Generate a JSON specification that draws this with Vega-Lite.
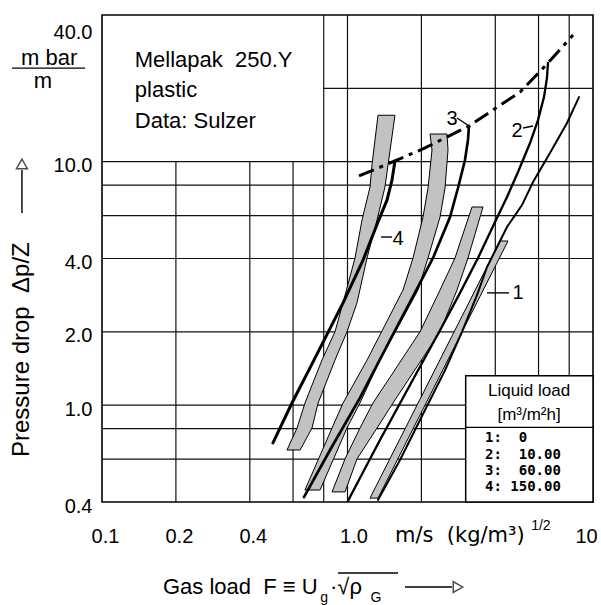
{
  "$schema": "https://vega.github.io/schema/vega-lite/v6.json",
  "width": 491,
  "height": 487,
  "autosize": {"type": "none"},
  "padding": {"left": 102, "top": 15, "right": 8, "bottom": 103},
  "background": "white",
  "config": {
    "view": {"stroke": "black", "strokeWidth": 1.6},
    "font": "Liberation Sans, DejaVu Sans",
    "text": {"font": "Liberation Sans, DejaVu Sans", "color": "black"}
  },
  "datasets": {
    "vgrid": [
      {"x": 0.2, "y": 0.4, "y2": 10}, {"x": 0.4, "y": 0.4, "y2": 10}, {"x": 0.6, "y": 0.4, "y2": 10},
      {"x": 0.8, "y": 0.4, "y2": 40}, {"x": 1, "y": 0.4, "y2": 40}, {"x": 2, "y": 0.4, "y2": 40},
      {"x": 4, "y": 1.32, "y2": 40}, {"x": 6, "y": 1.32, "y2": 40}, {"x": 8, "y": 1.32, "y2": 40}
    ],
    "hgrid": [
      {"y": 0.6, "x": 0.1, "x2": 3.03}, {"y": 0.8, "x": 0.1, "x2": 3.03}, {"y": 1, "x": 0.1, "x2": 3.03},
      {"y": 2, "x": 0.1, "x2": 10}, {"y": 4, "x": 0.1, "x2": 10}, {"y": 6, "x": 0.1, "x2": 10},
      {"y": 8, "x": 0.1, "x2": 10}, {"y": 10, "x": 0.1, "x2": 10}, {"y": 20, "x": 0.8, "x2": 10}
    ],
    "legendbox": [{"x": 3.03, "x2": 10, "y": 0.4, "y2": 1.32}],
    "legendsep": [{"x": 3.03, "x2": 10, "y": 0.81}],
    "bands": [
      {"band": "A", "y": 0.654, "x": 0.567, "x2": 0.641},
      {"band": "A", "y": 0.805, "x": 0.623, "x2": 0.717},
      {"band": "A", "y": 1.02, "x": 0.671, "x2": 0.759},
      {"band": "A", "y": 1.53, "x": 0.787, "x2": 0.889},
      {"band": "A", "y": 2.0, "x": 0.889, "x2": 0.995},
      {"band": "A", "y": 2.63, "x": 0.959, "x2": 1.093},
      {"band": "A", "y": 4.02, "x": 1.073, "x2": 1.201},
      {"band": "A", "y": 5.76, "x": 1.146, "x2": 1.319},
      {"band": "A", "y": 7.86, "x": 1.235, "x2": 1.421},
      {"band": "A", "y": 9.68, "x": 1.258, "x2": 1.462},
      {"band": "A", "y": 15.5, "x": 1.331, "x2": 1.561},
      {"band": "B", "y": 0.448, "x": 0.671, "x2": 0.773},
      {"band": "B", "y": 0.805, "x": 0.865, "x2": 0.995},
      {"band": "B", "y": 1.02, "x": 0.959, "x2": 1.124},
      {"band": "B", "y": 1.53, "x": 1.201, "x2": 1.356},
      {"band": "B", "y": 2.97, "x": 1.683, "x2": 1.937},
      {"band": "B", "y": 4.02, "x": 1.849, "x2": 2.128},
      {"band": "B", "y": 5.92, "x": 2.03, "x2": 2.382},
      {"band": "B", "y": 7.79, "x": 2.128, "x2": 2.496},
      {"band": "B", "y": 11.16, "x": 2.209, "x2": 2.567},
      {"band": "B", "y": 12.98, "x": 2.168, "x2": 2.543},
      {"band": "C", "y": 0.44, "x": 0.865, "x2": 0.977},
      {"band": "C", "y": 0.601, "x": 0.977, "x2": 1.093},
      {"band": "C", "y": 0.805, "x": 1.124, "x2": 1.319},
      {"band": "C", "y": 1.02, "x": 1.27, "x2": 1.532},
      {"band": "C", "y": 2.0, "x": 1.974, "x2": 2.382},
      {"band": "C", "y": 2.97, "x": 2.382, "x2": 2.793},
      {"band": "C", "y": 4.02, "x": 2.741, "x2": 3.096},
      {"band": "C", "y": 6.51, "x": 3.214, "x2": 3.564},
      {"band": "D", "y": 0.415, "x": 1.235, "x2": 1.331},
      {"band": "D", "y": 4.72, "x": 4.181, "x2": 4.507}
    ],
    "curves": [
      {"curve": "4", "i": 0, "x": 0.497, "y": 0.699}, {"curve": "4", "i": 1, "x": 0.594, "y": 1.02},
      {"curve": "4", "i": 2, "x": 0.73, "y": 1.53}, {"curve": "4", "i": 3, "x": 0.959, "y": 2.63},
      {"curve": "4", "i": 4, "x": 1.157, "y": 3.94}, {"curve": "4", "i": 5, "x": 1.331, "y": 5.65},
      {"curve": "4", "i": 6, "x": 1.449, "y": 6.96}, {"curve": "4", "i": 7, "x": 1.518, "y": 8.4},
      {"curve": "4", "i": 8, "x": 1.547, "y": 9.5}, {"curve": "4", "i": 9, "x": 1.561, "y": 10.06},
      {"curve": "3", "i": 0, "x": 0.665, "y": 0.419}, {"curve": "3", "i": 1, "x": 0.849, "y": 0.654},
      {"curve": "3", "i": 2, "x": 1.124, "y": 1.07}, {"curve": "3", "i": 3, "x": 1.49, "y": 1.85},
      {"curve": "3", "i": 4, "x": 1.937, "y": 3.06}, {"curve": "3", "i": 5, "x": 2.23, "y": 4.02},
      {"curve": "3", "i": 6, "x": 2.616, "y": 5.92}, {"curve": "3", "i": 7, "x": 2.819, "y": 7.79},
      {"curve": "3", "i": 8, "x": 3.01, "y": 10.15}, {"curve": "3", "i": 9, "x": 3.096, "y": 12.27},
      {"curve": "3", "i": 10, "x": 3.125, "y": 14.0},
      {"curve": "2", "i": 0, "x": 1.005, "y": 0.405}, {"curve": "2", "i": 1, "x": 1.356, "y": 0.719},
      {"curve": "2", "i": 2, "x": 1.797, "y": 1.21}, {"curve": "2", "i": 3, "x": 2.382, "y": 2.03},
      {"curve": "2", "i": 4, "x": 2.873, "y": 2.89}, {"curve": "2", "i": 5, "x": 3.401, "y": 4.02},
      {"curve": "2", "i": 6, "x": 3.989, "y": 5.65}, {"curve": "2", "i": 7, "x": 4.464, "y": 7.16},
      {"curve": "2", "i": 8, "x": 4.949, "y": 9.06}, {"curve": "2", "i": 9, "x": 5.54, "y": 11.92},
      {"curve": "2", "i": 10, "x": 5.97, "y": 14.8}, {"curve": "2", "i": 11, "x": 6.315, "y": 18.4},
      {"curve": "2", "i": 12, "x": 6.494, "y": 22.05}, {"curve": "2", "i": 13, "x": 6.556, "y": 25.4},
      {"curve": "1", "i": 0, "x": 1.331, "y": 0.408}, {"curve": "1", "i": 1, "x": 1.636, "y": 0.595},
      {"curve": "1", "i": 2, "x": 2.069, "y": 0.955}, {"curve": "1", "i": 3, "x": 2.496, "y": 1.39},
      {"curve": "1", "i": 4, "x": 2.927, "y": 2.0}, {"curve": "1", "i": 5, "x": 3.369, "y": 2.83},
      {"curve": "1", "i": 6, "x": 3.701, "y": 3.69}, {"curve": "1", "i": 7, "x": 4.464, "y": 5.39},
      {"curve": "1", "i": 8, "x": 5.138, "y": 6.63}, {"curve": "1", "i": 9, "x": 5.698, "y": 8.25},
      {"curve": "1", "i": 10, "x": 6.68, "y": 10.85}, {"curve": "1", "i": 11, "x": 7.836, "y": 14.4},
      {"curve": "1", "i": 12, "x": 8.77, "y": 18.4}
    ],
    "flood": [
      {"i": 0, "x": 1.114, "y": 8.73}, {"i": 1, "x": 1.561, "y": 10.06}, {"i": 2, "x": 2.069, "y": 11.38},
      {"i": 3, "x": 3.125, "y": 14.0}, {"i": 4, "x": 3.915, "y": 16.3}, {"i": 5, "x": 5.042, "y": 19.3},
      {"i": 6, "x": 6.556, "y": 25.4}, {"i": 7, "x": 8.289, "y": 33.1}
    ],
    "labelticks": [
      {"x": 1.369, "x2": 1.518, "y": 4.9, "y2": 4.9},
      {"x": 2.793, "x2": 3.096, "y": 15.1, "y2": 14.1},
      {"x": 5.19, "x2": 5.698, "y": 13.74, "y2": 14.0},
      {"x": 3.701, "x2": 4.55, "y": 2.89, "y2": 2.89},
      {"x": 0.043, "x2": 0.0853, "y": 24.2, "y2": 24.2},
      {"x": 0.915, "x2": 1.606, "y": 0.2044, "y2": 0.2044},
      {"x": 1.715, "x2": 2.665, "y": 0.179, "y2": 0.179},
      {"x": 0.0472, "x2": 0.0472, "y": 6.15, "y2": 9.24}
    ],
    "curvelabels": [
      {"text": "4", "x": 1.606, "y": 4.81}, {"text": "3", "x": 2.665, "y": 14.96},
      {"text": "2", "x": 4.9, "y": 13.36}, {"text": "1", "x": 4.95, "y": 2.89}
    ],
    "bigtext": [
      {"text": "Mellapak\u00a0\u00a0250.Y", "x": 0.136, "y": 24.5},
      {"text": "plastic", "x": 0.136, "y": 18.42},
      {"text": "Data:\u00a0Sulzer", "x": 0.136, "y": 13.74},
      {"text": "Gas load\u00a0\u00a0F\u00a0≡\u00a0U", "x": 0.1772, "y": 0.1676},
      {"text": "·√ρ", "x": 0.849, "y": 0.1676}
    ],
    "unitx": [
      {"text": "m/s\u00a0\u00a0(kg/m³)", "x": 1.561, "y": 0.274}
    ],
    "unittext": [
      {"text": "m\u00a0bar", "x": 0.0609, "y": 24.9},
      {"text": "m", "x": 0.0575, "y": 20.05}
    ],
    "smalltext": [
      {"text": "g", "x": 0.775, "y": 0.1554},
      {"text": "G", "x": 1.24, "y": 0.1554},
      {"text": "1/2", "x": 5.6, "y": 0.307}
    ],
    "ytitle": [{"text": "Pressure drop\u00a0\u00a0Δp/Z", "x": 0.0472, "y": 0.612}],
    "tri_right": [{"x": 2.819, "y": 0.179}],
    "tri_up": [{"x": 0.0472, "y": 9.78}],
    "legendhead": [
      {"text": "Liquid load", "x": 5.49, "y": 1.09},
      {"text": "[m³/m²h]", "x": 5.49, "y": 0.869}
    ],
    "legendrows": [
      {"text": "1:\u00a0\u00a00", "x": 3.631, "y": 0.706},
      {"text": "2:\u00a0\u00a010.00", "x": 3.631, "y": 0.601},
      {"text": "3:\u00a0\u00a060.00", "x": 3.631, "y": 0.516},
      {"text": "4:\u00a0150.00", "x": 3.631, "y": 0.444}
    ]
  },
  "encoding": {
    "x": {
      "field": "x", "type": "quantitative",
      "scale": {"type": "log", "domain": [0.1, 10], "nice": false, "zero": false},
      "axis": {
        "values": [0.1, 0.2, 0.4, 1, 10],
        "labelExpr": "datum.value == 1 ? '1.0' : datum.value == 10 ? '10' : format(datum.value, '.1f')",
        "grid": false, "ticks": false, "domain": false, "title": null,
        "labelFontSize": 20, "labelColor": "black", "labelFont": "Liberation Sans",
        "labelBaseline": "alphabetic", "labelPadding": 40, "labelFlush": false, "labelOverlap": false,
        "labelOffset": {"condition": [{"test": "datum.value == 1", "value": 6}, {"test": "datum.value == 10", "value": -7}], "value": 3}
      }
    },
    "y": {
      "field": "y", "type": "quantitative",
      "scale": {"type": "log", "domain": [0.4, 40], "nice": false, "zero": false},
      "axis": {
        "values": [0.4, 1, 2, 4, 10, 40],
        "labelExpr": "format(datum.value, '.1f')",
        "grid": false, "ticks": false, "domain": false, "title": null,
        "labelFontSize": 20, "labelColor": "black", "labelFont": "Liberation Sans",
        "labelPadding": 10, "labelFlush": false, "labelOverlap": false,
        "labelOffset": {"condition": {"test": "datum.value == 40", "value": 17}, "value": 4}
      }
    }
  },
  "layer": [
    {"data": {"name": "vgrid"}, "mark": {"type": "rule", "color": "#111", "strokeWidth": 1.2}, "encoding": {"y2": {"field": "y2"}}},
    {"data": {"name": "hgrid"}, "mark": {"type": "rule", "color": "#111", "strokeWidth": 1.2}, "encoding": {"x2": {"field": "x2"}}},
    {"data": {"name": "legendbox"}, "mark": {"type": "rect", "fill": "white", "stroke": "black", "strokeWidth": 1.5}, "encoding": {"x2": {"field": "x2"}, "y2": {"field": "y2"}}},
    {"data": {"name": "legendsep"}, "mark": {"type": "rule", "color": "black", "strokeWidth": 1.3}, "encoding": {"x2": {"field": "x2"}}},
    {"data": {"name": "bands"}, "mark": {"type": "area", "orient": "horizontal", "fill": "#c2c2c2", "stroke": "black", "strokeWidth": 1},
     "encoding": {"x2": {"field": "x2"}, "detail": {"field": "band"}}},
    {"data": {"name": "curves"}, "mark": {"type": "line", "color": "black", "strokeCap": "round"},
     "encoding": {"detail": {"field": "curve"}, "order": {"field": "i"},
       "strokeWidth": {"field": "curve", "type": "nominal", "scale": {"domain": ["1", "2", "3", "4"], "range": [2, 3, 3.2, 3.2]}, "legend": null}}},
    {"data": {"name": "flood"}, "mark": {"type": "line", "color": "black", "strokeWidth": 3, "strokeDash": [16, 6, 4, 6]}, "encoding": {"order": {"field": "i"}}},
    {"data": {"name": "labelticks"}, "mark": {"type": "rule", "color": "black", "strokeWidth": 1.4}, "encoding": {"x2": {"field": "x2"}, "y2": {"field": "y2"}}},
    {"data": {"name": "curvelabels"}, "mark": {"type": "text", "fontSize": 20, "align": "center", "baseline": "middle"}, "encoding": {"text": {"field": "text"}}},
    {"data": {"name": "bigtext"}, "mark": {"type": "text", "fontSize": 22, "align": "left", "baseline": "alphabetic"}, "encoding": {"text": {"field": "text"}}},
    {"data": {"name": "unitx"}, "mark": {"type": "text", "fontSize": 21, "font": "DejaVu Sans", "align": "left", "baseline": "alphabetic"}, "encoding": {"text": {"field": "text"}}},
    {"data": {"name": "unittext"}, "mark": {"type": "text", "fontSize": 22, "align": "center", "baseline": "alphabetic"}, "encoding": {"text": {"field": "text"}}},
    {"data": {"name": "smalltext"}, "mark": {"type": "text", "fontSize": 14, "align": "left", "baseline": "alphabetic"}, "encoding": {"text": {"field": "text"}}},
    {"data": {"name": "ytitle"}, "mark": {"type": "text", "fontSize": 24, "align": "left", "baseline": "middle", "angle": 270}, "encoding": {"text": {"field": "text"}}},
    {"data": {"name": "tri_right"}, "mark": {"type": "point", "shape": "triangle-right", "filled": false, "stroke": "black", "strokeWidth": 1.5, "size": 120}},
    {"data": {"name": "tri_up"}, "mark": {"type": "point", "shape": "triangle-up", "filled": false, "stroke": "black", "strokeWidth": 1.5, "size": 120}},
    {"data": {"name": "legendhead"}, "mark": {"type": "text", "fontSize": 17, "align": "center", "baseline": "alphabetic"}, "encoding": {"text": {"field": "text"}}},
    {"data": {"name": "legendrows"}, "mark": {"type": "text", "fontSize": 14, "font": "DejaVu Sans Mono", "fontWeight": "bold", "align": "left", "baseline": "alphabetic"}, "encoding": {"text": {"field": "text"}}}
  ]
}
